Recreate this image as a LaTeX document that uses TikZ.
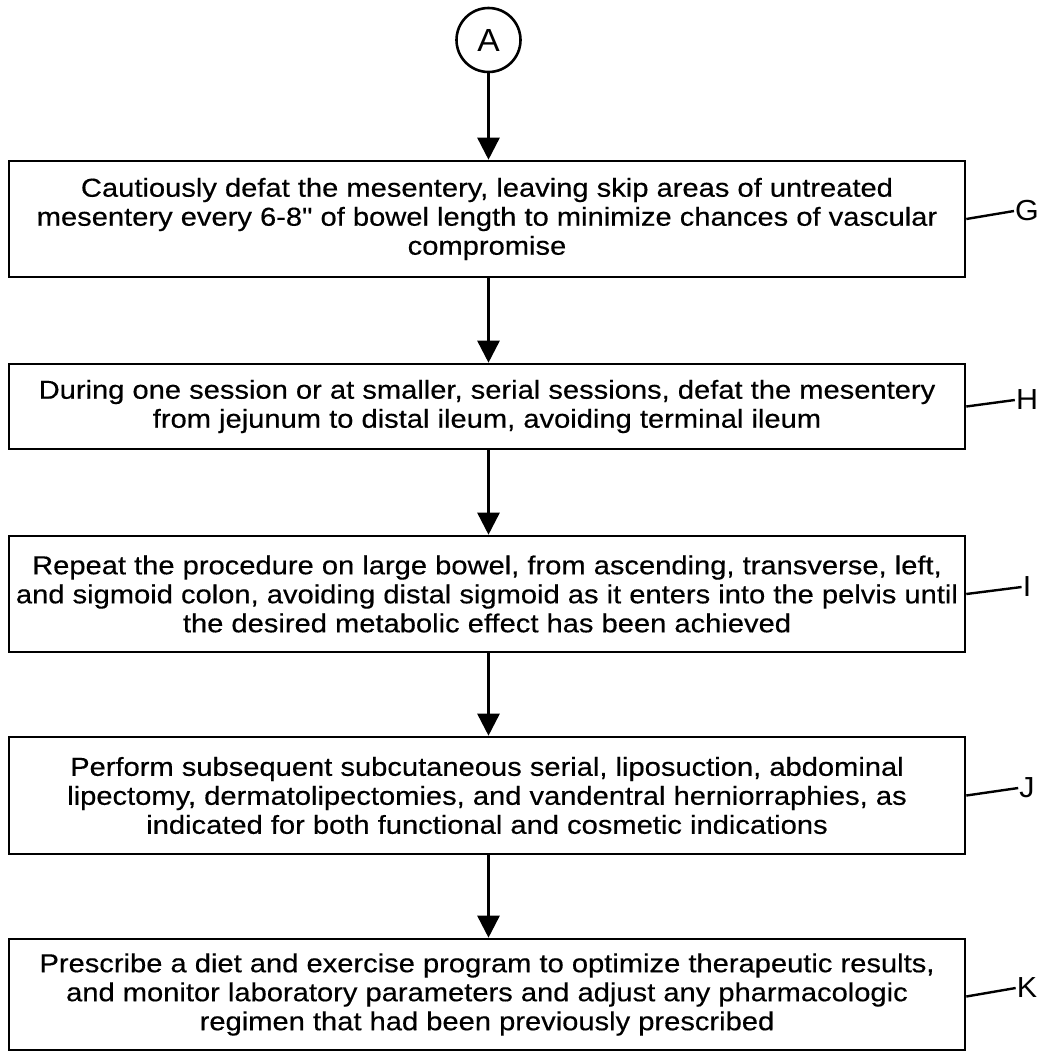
\documentclass[tikz,border=0pt]{standalone}
\usepackage{fontspec}
\setmainfont[FakeStretch=1.12,FakeBold=0.4]{Liberation Sans}
\newfontfamily\qfont[FakeStretch=1.12,FakeBold=0.4]{Liberation Sans}
\newfontfamily\lblfont[FakeStretch=1.05]{Liberation Sans}
\usetikzlibrary{arrows.meta}
\begin{document}
\begin{tikzpicture}[x=1pt,y=1pt,
  stepbox/.style={draw,line width=2.6pt,minimum width=956pt,inner sep=0pt,align=center,
    font=\fontsize{26}{29}\selectfont},
  lbl/.style={inner sep=1pt,font=\lblfont\fontsize{29}{30}\selectfont},
  leader/.style={line width=2.4pt},
  arr/.style={line width=2.6pt,-{Triangle[width=22pt,length=22pt]}}]
\useasboundingbox (0,0) rectangle (1044,-1053);
\node[circle,draw,line width=2.6pt,minimum size=64pt,inner sep=0pt,font=\lblfont\fontsize{32}{34}\selectfont] (A) at (488.5,-40) {A};
\node[stepbox,minimum height=116pt] (G) at (487,-219) {Cautiously defat the mesentery, leaving skip areas of untreated\\mesentery every 6-8{\qfont"} of bowel length to minimize chances of vascular\\compromise};
\node[stepbox,minimum height=85pt] (H) at (487,-406.5) {During one session or at smaller, serial sessions, defat the mesentery\\from jejunum to distal ileum, avoiding terminal ileum};
\node[stepbox,minimum height=116pt] (I) at (487,-594) {Repeat the procedure on large bowel, from ascending, transverse, left,\\and sigmoid colon, avoiding distal sigmoid as it enters into the pelvis until\\the desired metabolic effect has been achieved};
\node[stepbox,minimum height=117pt] (J) at (487,-795.5) {Perform subsequent subcutaneous serial, liposuction, abdominal\\lipectomy, dermatolipectomies, and vandentral herniorraphies, as\\indicated for both functional and cosmetic indications};
\node[stepbox,minimum height=111pt] (K) at (487,-994.5) {Prescribe a diet and exercise program to optimize therapeutic results,\\and monitor laboratory parameters and adjust any pharmacologic\\regimen that had been previously prescribed};
\node[lbl] (gl) at (1027,-211) {G};
\node[lbl] (hl) at (1027,-400) {H};
\node[lbl] (il) at (1027,-587) {I};
\node[lbl] (jl) at (1027,-788) {J};
\node[lbl] (kl) at (1027,-988) {K};
\draw[leader] (G.east) -- (gl.west);
\draw[leader] (H.east) -- (hl.west);
\draw[leader] (I.east) -- (il.west);
\draw[leader] (J.east) -- (jl.west);
\draw[leader] ([yshift=-2pt]K.east) -- (kl.west);
\draw[arr] (A.south) -- (A.south |- G.north);
\draw[arr] (G.south -| A.south) -- (A.south |- H.north);
\draw[arr] (H.south -| A.south) -- (A.south |- I.north);
\draw[arr] (I.south -| A.south) -- (A.south |- J.north);
\draw[arr] (J.south -| A.south) -- (A.south |- K.north);
\end{tikzpicture}
\end{document}
